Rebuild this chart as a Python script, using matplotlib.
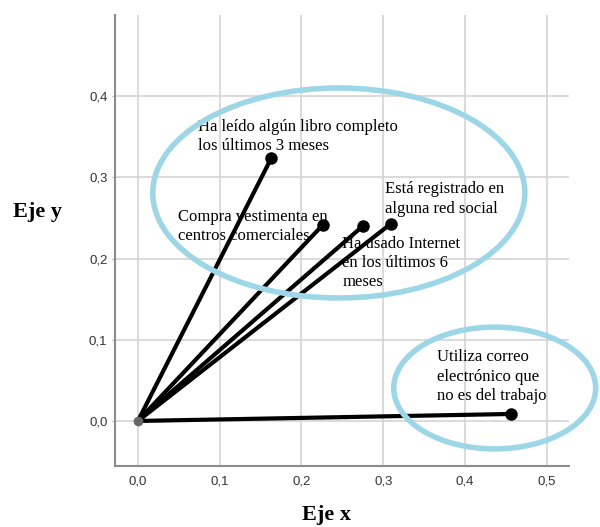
import matplotlib
matplotlib.use("Agg")
import matplotlib.pyplot as plt
from matplotlib.patches import Ellipse
from matplotlib.ticker import FuncFormatter

# Variables (vector end points) in the plane
labels = [
    "Ha leído algún libro completo\nlos últimos 3 meses",
    "Compra vestimenta en\ncentros comerciales",
    "Ha usado Internet\nen los últimos 6\nmeses",
    "Está registrado en\nalguna red social",
    "Utiliza correo\nelectrónico que\nno es del trabajo",
]
x_vals = [0.163, 0.226, 0.275, 0.309, 0.456]
y_vals = [0.3235, 0.2414, 0.240, 0.2426, 0.0086]

# Label anchor positions (left, vertical centre) in data units
label_x = [0.0733, 0.0489, 0.2502, 0.302, 0.3655]
label_y = [0.3504, 0.2393, 0.1946, 0.2734, 0.0546]

# Grouping ellipses: centre x, centre y, width, height
ell_cx = [0.2457, 0.4364]
ell_cy = [0.2808, 0.0406]
ell_w = [0.455, 0.247]
ell_h = [0.2586, 0.150]

x_ticks = [0.0, 0.1, 0.2, 0.3, 0.4, 0.5]
y_ticks = [0.0, 0.1, 0.2, 0.3, 0.4]

fig = plt.figure(figsize=(6.0, 5.27), dpi=100)
ax = fig.add_axes([0.1917, 0.1157, 0.7563, 0.8558])
ax.set_xlim(-0.028, 0.527)
ax.set_ylim(-0.0555, 0.5)

ax.set_xticks(x_ticks)
ax.set_yticks(y_ticks)
fmt = FuncFormatter(lambda v, p: f"{v:.1f}".replace(".", ","))
ax.xaxis.set_major_formatter(fmt)
ax.yaxis.set_major_formatter(fmt)
for lab in ax.get_xticklabels() + ax.get_yticklabels():
    lab.set_fontfamily("Liberation Sans")
    lab.set_fontsize(9.5)
    lab.set_color("#333333")
ax.tick_params(axis="y", length=2, width=1, color="#bbbbbb", pad=3.5)
ax.tick_params(axis="x", length=0, pad=7)

ax.grid(True, color="#d4d4d4", linewidth=1.2)
ax.set_axisbelow(True)
for side in ("top", "right"):
    ax.spines[side].set_visible(False)
for side in ("left", "bottom"):
    ax.spines[side].set_color("#8c8c8c")
    ax.spines[side].set_linewidth(1.5)

# Vectors from the origin
for xv, yv in zip(x_vals, y_vals):
    ax.plot([0, xv], [0, yv], color="black", linewidth=3, solid_capstyle="round", zorder=3)
    ax.plot(xv, yv, "o", color="black", markersize=8, zorder=4)
ax.plot(0, 0, "o", color="#666666", markersize=6, zorder=5)

for txt, lx, ly in zip(labels, label_x, label_y):
    ax.text(lx, ly, txt, ha="left", va="center", fontsize=12,
            family="Liberation Serif", linespacing=1.28, zorder=6)

for cx, cy, w, h in zip(ell_cx, ell_cy, ell_w, ell_h):
    ax.add_patch(Ellipse((cx, cy), w, h, fill=False, edgecolor="#9dd7e7",
                         linewidth=4, clip_on=False, zorder=7))

fig.text(0.062, 0.598, "Eje y", ha="center", va="center", fontsize=16,
         fontweight="bold", family="Liberation Serif")
fig.text(0.545, 0.023, "Eje x", ha="center", va="center", fontsize=16,
         fontweight="bold", family="Liberation Serif")

fig.savefig("out.png", dpi=100)
